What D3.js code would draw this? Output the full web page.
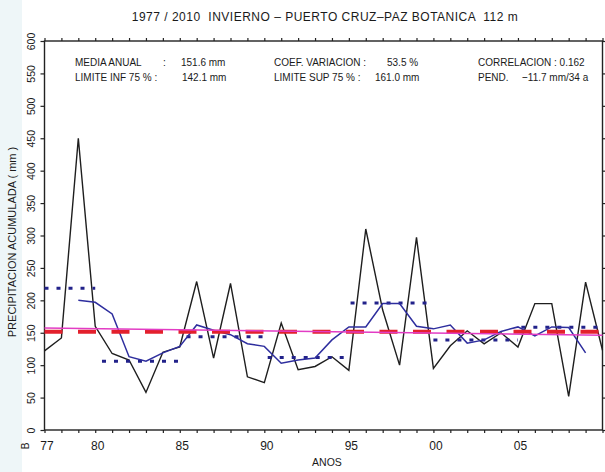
<!DOCTYPE html>
<html>
<head>
<meta charset="utf-8">
<script src="https://cdn.jsdelivr.net/npm/d3@7"></script>
<style>
  html, body { margin: 0; padding: 0; background: #ffffff; }
  svg { display: block; font-family: "Liberation Sans", Arial, sans-serif; }
  text { white-space: pre; fill: #1a1a1a; }
</style>
</head>
<body>
<svg id="chart" width="605" height="472"></svg>
<script>
// ---------------- DATA ----------------
const years = [1977,1978,1979,1980,1981,1982,1983,1984,1985,1986,1987,1988,1989,1990,1991,1992,1993,1994,1995,1996,1997,1998,1999,2000,2001,2002,2003,2004,2005,2006,2007,2008,2009,2010];
const precip = [122,142,450,160,118,108,58,120,128,229,111,226,82,73,165,93,98,113,92,310,185,100,297,95,130,153,133,150,128,195,195,52,228,123];

// 5-year moving average
const maYears = [1979,1980,1981,1982,1983,1984,1985,1986,1987,1988,1989,1990,1991,1992,1993,1994,1995,1996,1997,1998,1999,2000,2001,2002,2003,2004,2005,2006,2007,2008,2009];
const maValues = [200,197,179,113,106,119,129,162,154,147,133,129,103,108,111,139,159,159,195,195,160,156,162,134,139,152,159,145,159,158,119];

// Period means (blue dotted segments)
const segStart = [1977,1980.4,1985.4,1990.2,1995.1,2000.0,2005.2];
const segEnd   = [1980,1985,1990,1994.8,1999.7,2005,2010];
const segValue = [218.5,106,144,112,196,139,158.5];

// Mean and trend
const meanValue = 151.6;
const trendYears = [1977,2010];
const trendValues = [157.4,146.0];

// Axis ticks
const yTicks = [0,50,100,150,200,250,300,350,400,450,500,550,600];
const xLabelYears = [1977,1980,1985,1990,1995,2000,2005];
const xLabels = ["77","80","85","90","95","00","05"];

// Texts
const title = "1977 / 2010  INVIERNO \u2013 PUERTO CRUZ\u2013PAZ BOTANICA  112 m";
const yTitle = "PRECIPITACION ACUMULADA ( mm )";
const xTitle = "ANOS";

// ---------------- DRAW ----------------
const svg = d3.select("#chart");
const L = 44.5, R = 602.5, T = 41, B = 430;

// faint watermark strip on the left
svg.append("rect").attr("x",0).attr("y",0).attr("width",22).attr("height",472).attr("fill","#eef6f8");

const x = d3.scaleLinear().domain([1977,2010]).range([L,R]);
const y = d3.scaleLinear().domain([0,600]).range([B,T]);

// frame
svg.append("rect").attr("x",L).attr("y",T).attr("width",R-L).attr("height",B-T)
  .attr("fill","none").attr("stroke","#222").attr("stroke-width",1.4);

// minor ticks (years) top & bottom
const gb = svg.append("g").attr("transform",`translate(0,${B})`)
  .call(d3.axisBottom(x).tickValues(years).tickSize(3).tickFormat(""));
const gt = svg.append("g").attr("transform",`translate(0,${T})`)
  .call(d3.axisTop(x).tickValues(years).tickSize(3).tickFormat(""));
// y ticks left & right
const gl = svg.append("g").attr("transform",`translate(${L},0)`)
  .call(d3.axisLeft(y).tickValues(yTicks).tickSize(4).tickPadding(0));
const gr = svg.append("g").attr("transform",`translate(${R},0)`)
  .call(d3.axisRight(y).tickValues(yTicks).tickSize(4).tickFormat(""));
[gb,gt,gl,gr].forEach(g => {
  g.select(".domain").remove();
  g.selectAll(".tick line").attr("stroke","#222").attr("stroke-width",1.2);
});
gl.selectAll(".tick text")
  .attr("x",0).attr("dy",0)
  .attr("text-anchor","middle")
  .attr("transform","translate(-10,0) rotate(-90)")
  .attr("font-size",10.5).attr("fill","#1a1a1a")
  .style("font-family","'Liberation Sans', Arial, sans-serif");

// x labels
const gxl = svg.append("g").attr("transform",`translate(0,${B})`)
  .call(d3.axisBottom(x).tickValues(xLabelYears).tickSize(0).tickPadding(0)
        .tickFormat((d,i) => xLabels[i]));
gxl.select(".domain").remove();
gxl.selectAll(".tick text").attr("dy",0).attr("y",20).attr("dx",2)
  .attr("font-size",12).attr("fill","#1a1a1a")
  .style("font-family","'Liberation Sans', Arial, sans-serif");

// odd glyph at the left of x labels
svg.append("text").attr("transform","translate(29,446) rotate(-90)")
  .attr("text-anchor","middle").attr("font-size",10).text("B");

// black series
const line = d3.line().x((d,i)=>x(years[i])).y(d=>y(d));
svg.append("path").datum(precip).attr("d",line)
  .attr("fill","none").attr("stroke","#1e1e1e").attr("stroke-width",1.4)
  .attr("stroke-linejoin","miter");

// period means (dotted)
svg.append("g").selectAll("line").data(segValue).join("line")
  .attr("x1",(d,i)=>x(segStart[i])).attr("x2",(d,i)=>x(segEnd[i]))
  .attr("y1",d=>y(d)).attr("y2",d=>y(d))
  .attr("stroke","#22228a").attr("stroke-width",3).attr("stroke-dasharray","4,8");

// moving average
const maLine = d3.line().x((d,i)=>x(maYears[i])).y(d=>y(d));
svg.append("path").datum(maValues).attr("d",maLine)
  .attr("fill","none").attr("stroke","#2e2e9e").attr("stroke-width",1.5);

// mean (red dashed)
svg.append("line").attr("x1",x(1977)).attr("x2",x(2010))
  .attr("y1",y(meanValue)).attr("y2",y(meanValue))
  .attr("stroke","#e3202c").attr("stroke-width",4).attr("stroke-dasharray","18,15.5");

// trend (magenta)
svg.append("line").attr("x1",x(trendYears[0])).attr("x2",x(trendYears[1]))
  .attr("y1",y(trendValues[0])).attr("y2",y(trendValues[1]))
  .attr("stroke","#e23cc4").attr("stroke-width",1.5);

// title
svg.append("text").attr("x",325).attr("y",21).attr("text-anchor","middle")
  .attr("font-size",12).attr("letter-spacing",0.5).text(title);

// header statistics (slightly condensed font, like the original)
const hdr = [
  [75,66,"MEDIA ANUAL"],[163,66,":"],[181,66,"151.6 mm"],
  [274,66,"COEF. VARIACION :"],[387,66,"53.5 %"],
  [478,66,"CORRELACION : 0.162"],
  [75,81,"LIMITE INF 75 % :"],[182,81,"142.1 mm"],
  [274,81,"LIMITE SUP 75 % :"],[375,81,"161.0 mm"],
  [478,81,"PEND."],[522,81,"\u221211.7 mm/34 a"]
];
svg.append("g").selectAll("text").data(hdr).join("text")
  .attr("transform",d=>`translate(${d[0]},${d[1]}) scale(0.87,1)`)
  .attr("font-size",11.5).text(d=>d[2]);

// axis titles
svg.append("text").attr("transform","translate(16,242) rotate(-90)")
  .attr("text-anchor","middle").attr("font-size",11).text(yTitle);
svg.append("text").attr("x",327).attr("y",466).attr("text-anchor","middle")
  .attr("font-size",10.5).text(xTitle);
</script>
</body>
</html>
